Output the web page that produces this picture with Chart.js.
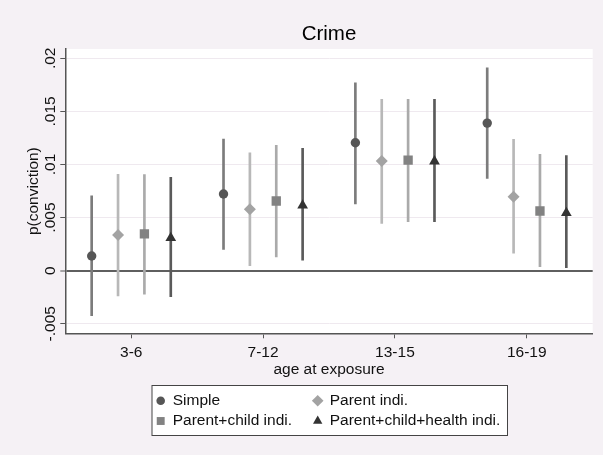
<!DOCTYPE html>
<html><head><meta charset="utf-8">
<script src="https://cdn.jsdelivr.net/npm/chart.js@4"></script>
<style>html,body{margin:0;padding:0;background:#f5f1f5;}canvas{display:block;}</style>
</head><body>
<canvas id="c" width="603" height="455"></canvas>
<script>
const categories = ['3-6', '7-12', '13-15', '16-19'];
const seriesNames = ['Simple', 'Parent indi.', 'Parent+child indi.', 'Parent+child+health indi.'];
const simpleEst = [0.00138, 0.00722, 0.01205, 0.0139];
const simpleLo  = [-0.00424, 0.00201, 0.00628, 0.0087];
const simpleHi  = [0.00706, 0.0124, 0.0177, 0.0191];
const parentEst = [0.00336, 0.00578, 0.01033, 0.00697];
const parentLo  = [-0.00238, 0.00047, 0.00446, 0.00164];
const parentHi  = [0.00908, 0.0111, 0.01614, 0.01237];
const childEst  = [0.00346, 0.00656, 0.01042, 0.00562];
const childLo   = [-0.00222, 0.00129, 0.00461, 0.00038];
const childHi   = [0.00904, 0.0118, 0.01614, 0.01096];
const healthEst = [0.00308, 0.00615, 0.0103, 0.00543];
const healthLo  = [-0.00245, 0.001, 0.00461, 0.00028];
const healthHi  = [0.0088, 0.01152, 0.01614, 0.01083];
const yTickValues = [-0.005, 0, 0.005, 0.01, 0.015, 0.02];
const yTickLabels = ['-.005', '0', '.005', '.01', '.015', '.02'];

const FONT = "'Liberation Sans', Arial, sans-serif";
const series = [
  {name: seriesNames[0], est: simpleEst, lo: simpleLo, hi: simpleHi, off: -0.3, style: 'circle', r: 4.7, lr: 4.3, mc: '#565656', lc: '#7c7c7c'},
  {name: seriesNames[1], est: parentEst, lo: parentLo, hi: parentHi, off: -0.1, style: 'rectRot', r: 6, lr: 5.8, mc: '#a3a3a3', lc: '#b8b8b8'},
  {name: seriesNames[2], est: childEst, lo: childLo, hi: childHi, off: 0.1, style: 'rect', r: 6.6, lr: 5.6, mc: '#828282', lc: '#aaaaaa'},
  {name: seriesNames[3], est: healthEst, lo: healthLo, hi: healthHi, off: 0.3, style: 'triangle', r: 6.2, lr: 5.4, mc: '#333333', lc: '#5a5a5a'}
];

const datasets = [];
series.forEach(s => {
  datasets.push({
    type: 'scatter', label: s.name, order: 1,
    data: categories.map((c, i) => ({x: i + 1 + s.off, y: s.est[i]})),
    pointStyle: s.style, pointRadius: s.r, pointBackgroundColor: s.mc, pointBorderWidth: 0, pointBorderColor: s.mc
  });
});
series.forEach(s => {
  datasets.push({
    type: 'bar', label: s.name + ' CI', order: 2, grouped: false,
    data: categories.map((c, i) => ({x: i + 1 + s.off, y: [s.lo[i], s.hi[i]]})),
    backgroundColor: s.lc, barThickness: 2, borderWidth: 0
  });
});

const bgPlugin = {
  id: 'bg',
  beforeDraw(chart) {
    const {ctx, chartArea: a} = chart;
    ctx.save();
    ctx.fillStyle = '#f5f1f5';
    ctx.fillRect(0, 0, chart.width, chart.height);
    ctx.fillStyle = '#ffffff';
    ctx.fillRect(a.left, a.top, a.right - a.left, a.bottom - a.top);
    ctx.restore();
  }
};

const legendPlugin = {
  id: 'legendBox',
  afterDraw(chart) {
    const ctx = chart.ctx;
    ctx.save();
    ctx.fillStyle = '#ffffff';
    ctx.fillRect(152, 385.5, 355.5, 50);
    ctx.strokeStyle = '#444';
    ctx.lineWidth = 1;
    ctx.strokeRect(152, 385.5, 355.5, 50);
    const pos = [[160.7, 400.7], [317.7, 400.7], [160.7, 421], [317.7, 421]];
    series.forEach((s, k) => {
      const [x, y] = pos[k];
      ctx.fillStyle = s.mc;
      Chart.helpers.drawPoint(ctx, {pointStyle: s.style, radius: s.lr, rotation: 0, borderWidth: 0}, x, y);
      ctx.fillStyle = '#111';
      ctx.font = '15.5px ' + FONT;
      ctx.textBaseline = 'middle';
      ctx.textAlign = 'left';
      ctx.fillText(chart.data.datasets[k].label, x + 12, y);
    });
    ctx.restore();
  }
};

new Chart(document.getElementById('c'), {
  type: 'scatter',
  data: {datasets},
  plugins: [bgPlugin, legendPlugin],
  options: {
    responsive: false, animation: false, events: [],
    layout: {padding: {left: 0, right: 10.3, top: 0, bottom: 75.7}},
    plugins: {
      legend: {display: false}, tooltip: {enabled: false},
      title: {display: true, text: 'Crime', color: '#000', fullSize: false,
        font: {family: FONT, size: 20.5, weight: 'normal'}, padding: {top: 22.4, bottom: 2}}
    },
    scales: {
      x: {
        type: 'linear', min: 0.5, max: 4.5, offset: false,
        afterBuildTicks(scale) { scale.ticks = categories.map((c, i) => ({value: i + 1})); },
        afterFit(scale) { scale.height = 46; },
        ticks: {autoSkip: false, maxRotation: 0, minRotation: 0, padding: 4.9, color: '#111',
          font: {family: FONT, size: 15.5},
          callback: (v) => categories[Math.round(v) - 1]},
        grid: {offset: false, drawOnChartArea: false, drawTicks: true, tickLength: 5, tickColor: '#555', tickWidth: 1},
        border: {display: true, color: '#555', width: 1.5},
        title: {display: true, text: 'age at exposure', color: '#111', font: {family: FONT, size: 15.5}, padding: {top: 0, bottom: 0}}
      },
      y: {
        type: 'linear', min: -0.0059, max: 0.02088,
        afterBuildTicks(scale) { scale.ticks = yTickValues.map(v => ({value: v})); },
        afterFit(scale) { scale.width = 65.3; },
        ticks: {autoSkip: false, minRotation: 90, maxRotation: 90, crossAlign: 'center', padding: -8.3,
          color: '#111', font: {family: FONT, size: 15.5},
          callback: (v) => yTickLabels[yTickValues.findIndex(t => Math.abs(t - v) < 1e-9)]},
        grid: {
          offset: false,
          color: (c) => (c.tick && Math.abs(c.tick.value) < 1e-12) ? '#5f5f5f' : '#efe9ef',
          lineWidth: (c) => (c.tick && Math.abs(c.tick.value) < 1e-12) ? 2 : 1,
          drawTicks: true, tickLength: 5, tickColor: '#555', tickWidth: 1
        },
        border: {display: true, color: '#555', width: 1.5},
        title: {display: true, text: 'p(conviction)', color: '#111', font: {family: FONT, size: 15.5}, padding: {top: 24.7, bottom: 0}}
      }
    }
  }
});
</script>
</body></html>
